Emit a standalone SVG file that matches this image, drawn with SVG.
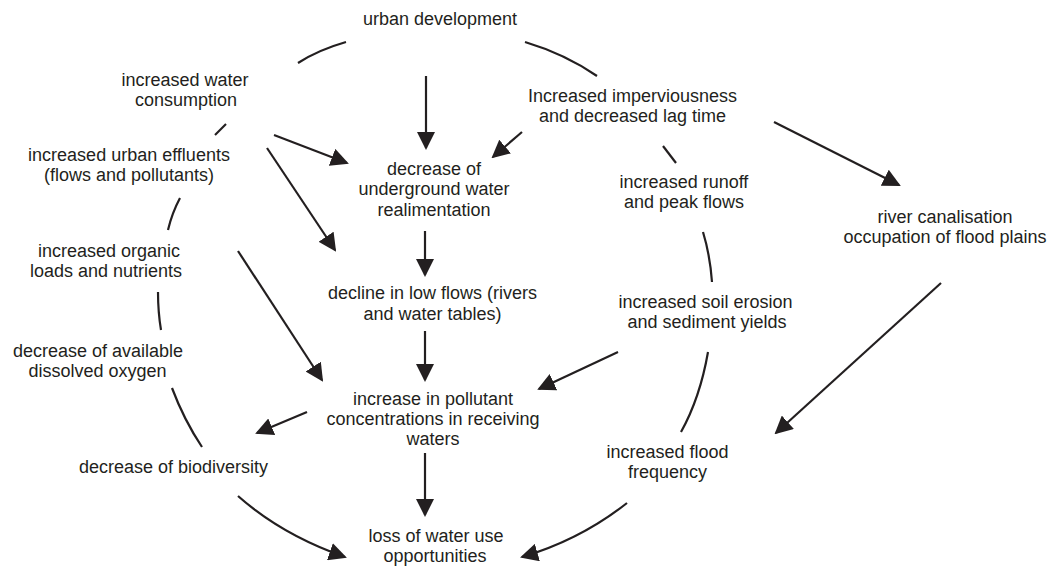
<svg xmlns="http://www.w3.org/2000/svg" width="1049" height="573" viewBox="0 0 1049 573">
<defs>
<style>
text{font-family:"Liberation Sans",Arial,sans-serif;font-size:18px;fill:#231f20;text-anchor:middle}
.c path{fill:none;stroke:#231f20;stroke-width:2.2;stroke-linecap:butt}
.c path.a{marker-end:url(#ah)}
</style>
<marker id="ah" viewBox="0 0 18 18" refX="16" refY="9" markerWidth="18" markerHeight="18" markerUnits="userSpaceOnUse" orient="auto">
<path d="M0,0 L18,9 L0,18 z" fill="#231f20"/>
</marker>
</defs>
<rect width="1049" height="573" fill="#ffffff"/>
<g id="connectors" class="c">
<path d="M298,63 Q318,50 346,42"/>
<path d="M525,42 Q565,54 597,76"/>
<path d="M215,135 L226,124"/>
<path d="M180,198 Q172,213 168,230"/>
<path d="M158,292 Q158,312 161,330"/>
<path d="M172,388 Q184,420 202,447"/>
<path class="a" d="M238,496 Q282,535 345,557"/>
<path d="M663,146 L676,163"/>
<path d="M703,232 Q710,255 712,282"/>
<path d="M708,352 Q700,398 681,432"/>
<path class="a" d="M627,503 Q580,540 522,557"/>
<path class="a" d="M426,76 L426,148"/>
<path class="a" d="M522,132 L493,157"/>
<path class="a" d="M274,135 L347,163"/>
<path class="a" d="M267,148 L335,250"/>
<path class="a" d="M238,251 L322,380"/>
<path class="a" d="M425,231 L425,275"/>
<path class="a" d="M425,331 L425,380"/>
<path class="a" d="M618,352 L539,389"/>
<path class="a" d="M307,412 L257,433"/>
<path class="a" d="M425,453 L425,515"/>
<path class="a" d="M774,122 L899,185"/>
<path class="a" d="M941,283 L776,433"/>
</g>
<g id="n1"><text x="440" y="25">urban development</text></g>
<g id="n2"><text x="185" y="86">increased water</text><text x="186" y="106">consumption</text></g>
<g id="n3"><text x="632.5" y="102">Increased imperviousness</text><text x="632.5" y="122">and decreased lag time</text></g>
<g id="n4"><text x="129" y="161">increased urban effluents</text><text x="129" y="181">(flows and pollutants)</text></g>
<g id="n5"><text x="434" y="175">decrease of</text><text x="434" y="195">underground water</text><text x="434" y="216">realimentation</text></g>
<g id="n6"><text x="684" y="188">increased runoff</text><text x="684" y="208">and peak flows</text></g>
<g id="n7"><text x="945" y="223">river canalisation</text><text x="945" y="243">occupation of flood plains</text></g>
<g id="n8"><text x="109" y="257">increased organic</text><text x="106" y="277">loads and nutrients</text></g>
<g id="n9"><text x="432.5" y="299">decline in low flows (rivers</text><text x="432.5" y="320">and water tables)</text></g>
<g id="n10"><text x="705.5" y="308">increased soil erosion</text><text x="707" y="328">and sediment yields</text></g>
<g id="n11"><text x="98" y="357">decrease of available</text><text x="97.5" y="377">dissolved oxygen</text></g>
<g id="n12"><text x="433" y="405">increase in pollutant</text><text x="433" y="425">concentrations in receiving</text><text x="433" y="445">waters</text></g>
<g id="n13"><text x="667.5" y="458">increased flood</text><text x="667.5" y="478">frequency</text></g>
<g id="n14"><text x="173.5" y="473">decrease of biodiversity</text></g>
<g id="n15"><text x="436" y="542">loss of water use</text><text x="435" y="562">opportunities</text></g>
</svg>
